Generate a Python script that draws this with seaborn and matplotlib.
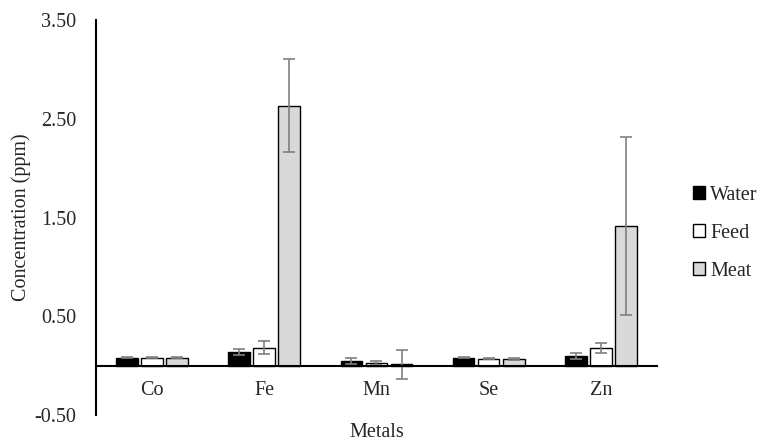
import pandas as pd
import numpy as np
import matplotlib
matplotlib.use("Agg")
import matplotlib.pyplot as plt
import seaborn as sns

metals = ['Co', 'Fe', 'Mn', 'Se', 'Zn']
water = [0.08, 0.14, 0.05, 0.08, 0.10]
water_err = [0.005, 0.03, 0.03, 0.005, 0.03]
feed = [0.08, 0.18, 0.03, 0.07, 0.175]
feed_err = [0.005, 0.065, 0.02, 0.005, 0.05]
meat = [0.08, 2.63, 0.015, 0.07, 1.41]
meat_err = [0.005, 0.47, 0.145, 0.01, 0.90]
sources = ['Water', 'Feed', 'Meat']

df = pd.DataFrame({
    'Metal': metals * 3,
    'Source': [s for s in sources for _ in metals],
    'Conc': water + feed + meat,
    'Err': water_err + feed_err + meat_err,
})

sns.set_style("white")
plt.rcParams['font.family'] = ['Liberation Serif', 'DejaVu Serif']
fs = 14.5

fig = plt.figure(figsize=(7.73, 4.43), dpi=100)
ax = fig.add_axes([0.124, 0.063, 0.726, 0.892])

pal = {'Water': '#000000', 'Feed': '#ffffff', 'Meat': '#d9d9d9'}
sns.barplot(data=df, x='Metal', y='Conc', hue='Source', order=metals,
            hue_order=sources, palette=pal, errorbar=None, width=0.67,
            gap=0.14, edgecolor='black', linewidth=1.0, ax=ax)

# error bars at the centre of each bar
for cont, src in zip(ax.containers, sources):
    sub = df[df.Source == src]
    xs = [p.get_x() + p.get_width() / 2 for p in cont]
    ax.errorbar(xs, sub.Conc.values, yerr=sub.Err.values, fmt='none',
                ecolor='#808080', elinewidth=1.2, capsize=4, capthick=1.2)

ax.set_ylim(-0.5, 3.5)
ax.set_xlim(-0.5, 4.5)
ax.set_yticks([-0.5, 0.5, 1.5, 2.5, 3.5])
ax.set_yticklabels(['-0.50', '0.50', '1.50', '2.50', '3.50'])
ax.spines['top'].set_visible(False)
ax.spines['right'].set_visible(False)
ax.spines['bottom'].set_position(('data', 0))
ax.spines['bottom'].set_linewidth(1.5)
ax.spines['bottom'].set_color('black')
ax.spines['left'].set_linewidth(1.5)
ax.spines['left'].set_color('black')
ax.tick_params(axis='both', length=0, labelsize=fs)
ax.tick_params(axis='x', pad=11)
ax.tick_params(axis='y', pad=14)

ax.set_xlabel('Metals', fontsize=fs, va='center')
ax.xaxis.set_label_coords(0.5, -0.043)
ax.set_ylabel('Concentration (ppm)', fontsize=fs)
ax.yaxis.set_label_coords(-0.116, 0.5)

leg = ax.legend(loc='center left', bbox_to_anchor=(1.064, 0.46), frameon=False,
                fontsize=fs, handlelength=0.6, handleheight=0.6,
                handletextpad=0.25, labelspacing=0.95, borderpad=0,
                borderaxespad=0)

fig.savefig('out.png', dpi=100)
